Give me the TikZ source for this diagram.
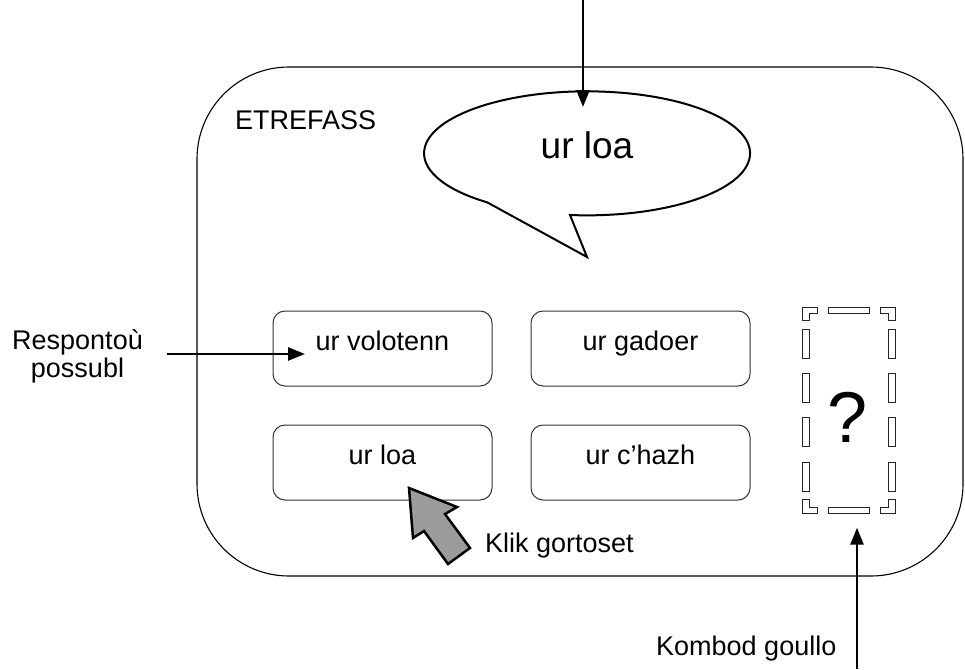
\documentclass[tikz,border=0pt]{standalone}
\usepackage{fontspec}
\setmainfont{Liberation Sans}
\usetikzlibrary{arrows.meta}
\definecolor{cursorgray}{HTML}{9C9C9C}
\definecolor{btnline}{HTML}{333333}
\tikzset{
  conn/.style={line width=2.6pt, -{Triangle[length=17pt,width=13pt]}},
  btn/.style={draw=btnline, line width=1pt, rounded corners=12pt, minimum width=219pt, minimum height=75pt, inner sep=0pt, text height=0.7em, text depth=0.35em, font=\fontsize{27}{32}\selectfont},
  lbl/.style={inner sep=0pt, font=\fontsize{27}{28}\selectfont},
  qd/.style={draw=black!85, fill=white, line width=0.8pt},
}
\begin{document}
\begin{tikzpicture}[x=1pt,y=-1pt]
\useasboundingbox (0,0) rectangle (965,669);
% screen
\draw[line width=1.1pt, rounded corners=92pt] (197,67) rectangle (963,576);
\node[lbl, anchor=base west] (etre) at (235,129) {ETREFASS};
% speech bubble
\draw[line width=2pt, line join=miter] (570,215) arc[start angle=96, end angle=-232.2, x radius=163, y radius=62] -- (587,257) -- cycle;
\node[inner sep=0pt, anchor=base, font=\fontsize{37}{42}\selectfont] (bub) at (587,158) {ur loa};
\coordinate (ttop) at (583,0);
\coordinate (btip) at (583,107);
\draw[conn] (ttop) -- (btip);
% buttons
\node[btn] (b1) at (382.5,348.5) {ur volotenn};
\node[btn] (b2) at (640.5,348.5) {ur gadoer};
\node[btn] (b3) at (382.5,462.5) {ur loa};
\node[btn] (b4) at (640.5,462.5) {ur c’hazh};
% left label and arrow
\node[lbl, align=center] (resp) at (77.5,356) {Respontoù\\possubl};
\coordinate (rt) at (305,354);
\path (resp.east |- rt) ++(24,0) coordinate (rs);
\draw[conn] (rs) -- (rt);
% cursor
\draw[line width=2.5pt, fill=cursorgray, line join=miter] (409,488) -- (457,507) -- (445,514) -- (470,548) -- (448,564) -- (424,531) -- (413,538) -- cycle;
\node[lbl, anchor=base west] (klik) at (485,552) {Klik gortoset};
% question box
\node[minimum width=93pt, minimum height=207pt, inner sep=0pt] (qbox) at (848.5,410) {};
\draw[qd] (802,307) -- (817,307) -- (817,313) -- (809,313) -- (809,320) -- (802,320) -- cycle;
\draw[qd] (895,307) -- (880,307) -- (880,313) -- (888,313) -- (888,320) -- (895,320) -- cycle;
\draw[qd] (802,513) -- (817,513) -- (817,507) -- (809,507) -- (809,499) -- (802,499) -- cycle;
\draw[qd] (895,513) -- (880,513) -- (880,507) -- (888,507) -- (888,499) -- (895,499) -- cycle;
\draw[qd] (828,307) rectangle (869,313);
\draw[qd] (828,507) rectangle (869,513);
\foreach \ya/\yb in {329/358, 373/402, 417/446, 462/491}{
  \draw[qd] (802,\ya) rectangle (809,\yb);
  \draw[qd] (888,\ya) rectangle (895,\yb);
}
\node[inner sep=0pt, anchor=base, font=\fontsize{72}{80}\selectfont] (qm) at (848,442) {?};
% bottom label and arrow
\coordinate (kb) at (857,669);
\draw[conn, shorten >=14pt] (kb) -- (kb |- qbox.south);
\node[lbl, anchor=base west] (komb) at (656,655) {Kombod goullo};
\end{tikzpicture}
\end{document}
